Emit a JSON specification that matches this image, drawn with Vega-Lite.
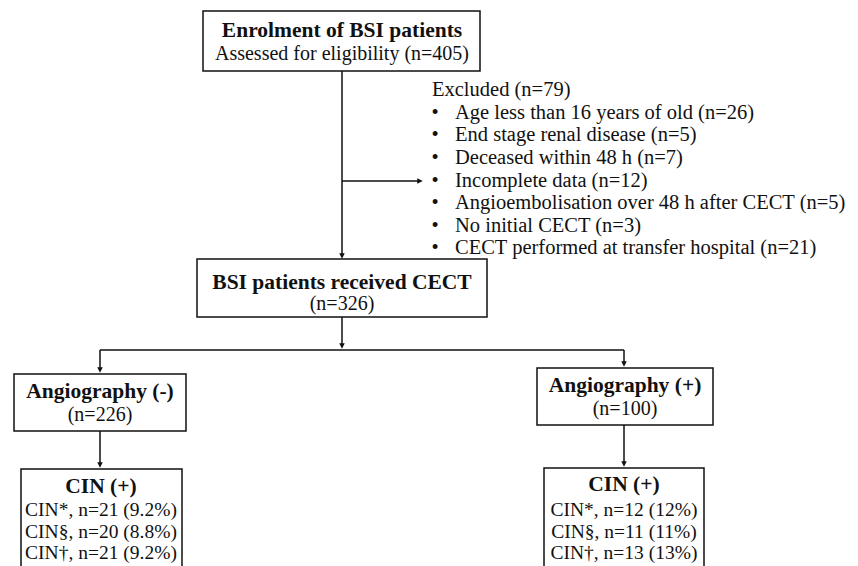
{
  "$schema": "https://vega.github.io/schema/vega-lite/v6.json",
  "width": 858,
  "height": 566,
  "padding": 0,
  "autosize": {"type": "none"},
  "background": "white",
  "config": {"view": {"stroke": null}},
  "datasets": {
    "boxes": [
      {"id": "enrol", "x1": 203, "x2": 480, "y1": 11, "y2": 71},
      {"id": "cect", "x1": 197, "x2": 487, "y1": 259, "y2": 317},
      {"id": "angneg", "x1": 14, "x2": 186, "y1": 374, "y2": 431},
      {"id": "angpos", "x1": 537, "x2": 713, "y1": 368, "y2": 425},
      {"id": "cinneg", "x1": 21, "x2": 182, "y1": 469, "y2": 570},
      {"id": "cinpos", "x1": 544, "x2": 704, "y1": 468, "y2": 570}
    ],
    "lines": [
      {"x1": 342, "y1": 71, "x2": 342, "y2": 255},
      {"x1": 342, "y1": 181, "x2": 418, "y2": 181},
      {"x1": 342, "y1": 317, "x2": 342, "y2": 345},
      {"x1": 100, "y1": 350, "x2": 624, "y2": 350},
      {"x1": 100, "y1": 350, "x2": 100, "y2": 369},
      {"x1": 624, "y1": 350, "x2": 624, "y2": 363},
      {"x1": 100, "y1": 431, "x2": 100, "y2": 464},
      {"x1": 624, "y1": 425, "x2": 624, "y2": 463}
    ],
    "down": [
      {"x": 342, "y": 256},
      {"x": 342, "y": 346},
      {"x": 100, "y": 370},
      {"x": 624, "y": 364},
      {"x": 100, "y": 465},
      {"x": 624, "y": 464}
    ],
    "right": [
      {"x": 420, "y": 181}
    ],
    "bold": [
      {"x": 342, "y": 31, "t": "Enrolment of BSI patients"},
      {"x": 342, "y": 283, "t": "BSI patients received CECT"},
      {"x": 100, "y": 392, "t": "Angiography (-)"},
      {"x": 625, "y": 386, "t": "Angiography (+)"},
      {"x": 101, "y": 487, "t": "CIN (+)"},
      {"x": 624, "y": 485, "t": "CIN (+)"}
    ],
    "normal": [
      {"x": 342, "y": 54, "t": "Assessed for eligibility  (n=405)"},
      {"x": 342, "y": 304, "t": "(n=326)"},
      {"x": 100, "y": 415, "t": "(n=226)"},
      {"x": 625, "y": 409, "t": "(n=100)"}
    ],
    "cin": [
      {"x": 101, "y": 510, "t": "CIN*, n=21 (9.2%)"},
      {"x": 101, "y": 532, "t": "CIN§, n=20 (8.8%)"},
      {"x": 101, "y": 553, "t": "CIN†, n=21 (9.2%)"},
      {"x": 624, "y": 510, "t": "CIN*, n=12 (12%)"},
      {"x": 624, "y": 532, "t": "CIN§, n=11 (11%)"},
      {"x": 624, "y": 553, "t": "CIN†, n=13 (13%)"}
    ],
    "excl": [
      {"x": 432, "y": 90, "t": "Excluded (n=79)"}
    ],
    "items": [
      {"y": 113, "t": "Age less than 16 years of old (n=26)"},
      {"y": 135, "t": "End stage renal disease (n=5)"},
      {"y": 158, "t": "Deceased within 48 h (n=7)"},
      {"y": 181, "t": "Incomplete data (n=12)"},
      {"y": 203, "t": "Angioembolisation  over 48 h after CECT (n=5)"},
      {"y": 226, "t": "No initial  CECT (n=3)"},
      {"y": 248, "t": "CECT performed  at transfer hospital (n=21)"}
    ]
  },
  "layer": [
    {
      "data": {"name": "boxes"},
      "mark": {"type": "rect", "fill": "white", "stroke": "#111", "strokeWidth": 1.5, "clip": true},
      "encoding": {
        "x": {"field": "x1", "type": "quantitative", "scale": {"domain": [0, 858], "nice": false, "zero": false}, "axis": null},
        "x2": {"field": "x2"},
        "y": {"field": "y1", "type": "quantitative", "scale": {"domain": [0, 566], "nice": false, "zero": false, "reverse": true}, "axis": null},
        "y2": {"field": "y2"}
      }
    },
    {
      "data": {"name": "lines"},
      "mark": {"type": "rule", "stroke": "#111", "strokeWidth": 1.5},
      "encoding": {
        "x": {"field": "x1", "type": "quantitative"},
        "x2": {"field": "x2"},
        "y": {"field": "y1", "type": "quantitative"},
        "y2": {"field": "y2"}
      }
    },
    {
      "data": {"name": "down"},
      "mark": {"type": "point", "shape": "M-1,-1L1,-1L0,1Z", "filled": true, "color": "#111", "size": 30, "opacity": 1},
      "encoding": {
        "x": {"field": "x", "type": "quantitative"},
        "y": {"field": "y", "type": "quantitative"}
      }
    },
    {
      "data": {"name": "right"},
      "mark": {"type": "point", "shape": "M-1,-1L1,0L-1,1Z", "filled": true, "color": "#111", "size": 30, "opacity": 1},
      "encoding": {
        "x": {"field": "x", "type": "quantitative"},
        "y": {"field": "y", "type": "quantitative"}
      }
    },
    {
      "data": {"name": "bold"},
      "mark": {"type": "text", "font": "Liberation Serif", "fontSize": 21.5, "fontWeight": "bold", "color": "#111", "align": "center", "baseline": "middle"},
      "encoding": {
        "x": {"field": "x", "type": "quantitative"},
        "y": {"field": "y", "type": "quantitative"},
        "text": {"field": "t"}
      }
    },
    {
      "data": {"name": "normal"},
      "mark": {"type": "text", "font": "Liberation Serif", "fontSize": 20, "color": "#111", "align": "center", "baseline": "middle"},
      "encoding": {
        "x": {"field": "x", "type": "quantitative"},
        "y": {"field": "y", "type": "quantitative"},
        "text": {"field": "t"}
      }
    },
    {
      "data": {"name": "cin"},
      "mark": {"type": "text", "font": "Liberation Serif", "fontSize": 19.5, "color": "#111", "align": "center", "baseline": "middle"},
      "encoding": {
        "x": {"field": "x", "type": "quantitative"},
        "y": {"field": "y", "type": "quantitative"},
        "text": {"field": "t"}
      }
    },
    {
      "data": {"name": "excl"},
      "mark": {"type": "text", "font": "Liberation Serif", "fontSize": 20.5, "color": "#111", "align": "left", "baseline": "middle"},
      "encoding": {
        "x": {"field": "x", "type": "quantitative"},
        "y": {"field": "y", "type": "quantitative"},
        "text": {"field": "t"}
      }
    },
    {
      "data": {"name": "items"},
      "mark": {"type": "text", "font": "Liberation Serif", "fontSize": 20.5, "color": "#111", "align": "left", "baseline": "middle", "dx": 455},
      "encoding": {
        "x": {"datum": 0, "type": "quantitative"},
        "y": {"field": "y", "type": "quantitative"},
        "text": {"field": "t"}
      }
    },
    {
      "data": {"name": "items"},
      "mark": {"type": "text", "font": "Liberation Serif", "fontSize": 20.5, "color": "#111", "align": "center", "baseline": "middle", "text": "•", "dx": 435},
      "encoding": {
        "x": {"datum": 0, "type": "quantitative"},
        "y": {"field": "y", "type": "quantitative"}
      }
    }
  ]
}
